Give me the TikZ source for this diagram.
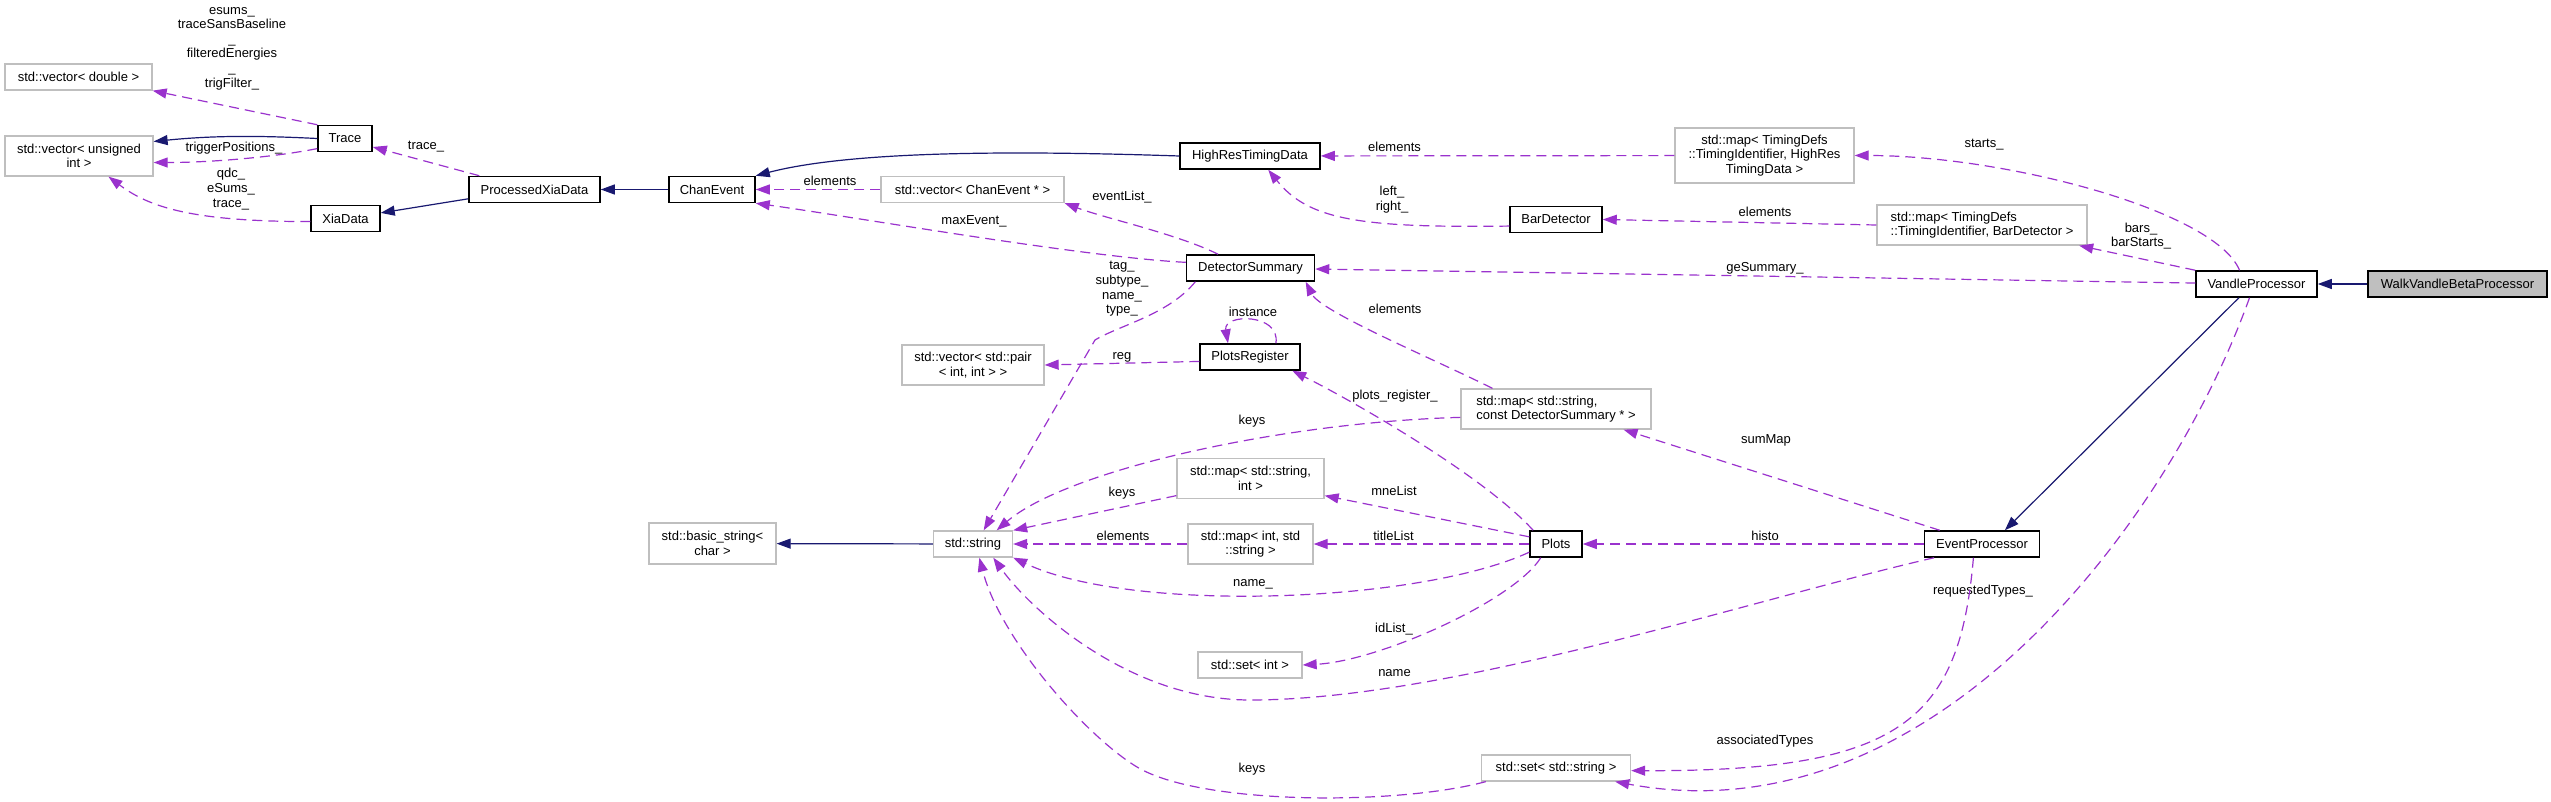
\documentclass[tikz,border=0pt]{standalone}
\usepackage{fontspec}
\usepackage{tikz}
\usetikzlibrary{arrows.meta,positioning}
\newfontfamily\graphfont{Liberation Sans}
\definecolor{usecol}{HTML}{9A32CD}
\definecolor{inhcol}{HTML}{191970}
\definecolor{extcol}{HTML}{BFBFBF}

\begin{document}
\begin{tikzpicture}[
  x=1pt, y=-1pt,
  font=\graphfont\fontsize{13}{14.6}\selectfont,
  cls/.style={draw=black, line width=1.5pt, fill=white, align=center, inner sep=2pt, minimum height=26pt},
  ext/.style={cls, draw=extcol, line width=1.3pt},
  focus/.style={cls, fill=extcol},
  lbl/.style={inner sep=0pt, align=center},
  inherit/.style={-{Triangle[length=14pt,width=10pt]}, color=inhcol, line width=1.2pt},
  usage/.style={-{Triangle[length=14pt,width=10pt]}, color=usecol, line width=1.2pt, dash pattern=on 10pt off 6pt}
]
\useasboundingbox (0,0) rectangle (2551,802);

\node[ext, minimum width=147pt] (vecdbl) at (78.5,77) {std::vector< double >};
\node[ext, minimum width=148pt, minimum height=40pt] (vecuint) at (79,156) {std::vector< unsigned\\int >};
\node[cls, minimum width=54pt] (trace) at (345,138.5) {Trace};
\node[cls, minimum width=69pt] (xiadata) at (345.5,218.5) {XiaData};
\node[cls, minimum width=131pt] (pxd) at (534.5,189.5) {ProcessedXiaData};
\node[cls, minimum width=86pt] (chanev) at (712,189.5) {ChanEvent};
\node[ext, minimum width=183pt] (vecchan) at (972.5,189.5) {std::vector< ChanEvent * >};
\node[cls, minimum width=140pt] (hrtd) at (1250,156) {HighResTimingData};
\node[ext, minimum width=179pt, minimum height=55pt] (maphrtd) at (1764.5,155.5) {std::map< TimingDefs\\::TimingIdentifier, HighRes\\TimingData >};
\node[cls, minimum width=92pt] (bardet) at (1556,219.5) {BarDetector};
\node[ext, minimum width=210pt, minimum height=40pt, align=left] (mapbar) at (1982,225) {std::map< TimingDefs\\::TimingIdentifier, BarDetector >};
\node[cls, minimum width=128pt] (detsum) at (1250.5,268) {DetectorSummary};
\node[cls, minimum width=121pt] (vandle) at (2256.5,284) {VandleProcessor};
\node[focus, minimum width=179pt, right=49.5pt of vandle] (walk) {WalkVandleBetaProcessor};
\node[ext, minimum width=142pt, minimum height=40pt] (vecpair) at (973,365) {std::vector< std::pair\\< int, int > >};
\node[cls, minimum width=100pt] (plotsreg) at (1250,357) {PlotsRegister};
\node[ext, minimum width=190pt, minimum height=40pt, align=left] (mapsumm) at (1556,409) {std::map< std::string,\\ const DetectorSummary * >};
\node[ext, minimum width=147pt, minimum height=40pt] (mapstrint) at (1250.5,478.5) {std::map< std::string,\\int >};
\node[ext, minimum width=127pt, minimum height=41pt] (basicstr) at (712.5,543.5) {std::basic\_string<\\char >};
\node[ext, minimum width=79pt] (stdstr) at (973,544) {std::string};
\node[ext, minimum width=125pt, minimum height=40pt] (mapintstr) at (1250.5,544) {std::map< int, std\\::string >};
\node[cls, minimum width=52pt] (plots) at (1556,544) {Plots};
\node[cls, minimum width=115pt] (evproc) at (1982,544) {EventProcessor};
\node[ext, minimum width=104pt] (setint) at (1250,665) {std::set< int >};
\node[ext, minimum width=149pt] (setstr) at (1556,768) {std::set< std::string >};

\node[lbl] (l-trig) at (232,48.5) {esums\_\\traceSansBaseline\\\_\\filteredEnergies\\\_\\trigFilter\_};
\node[lbl] (l-trigpos) at (234,148) {triggerPositions\_};
\node[lbl] (l-qdc) at (231,189) {qdc\_\\eSums\_\\trace\_};
\node[lbl] (l-trace) at (426,147) {trace\_};
\node[lbl] (l-chanelem) at (830,181) {elements};
\node[lbl] (l-maxev) at (974,221) {maxEvent\_};
\node[lbl] (l-evlist) at (1122,197) {eventList\_};
\node[lbl] (l-hrtdelem) at (1394.5,147) {elements};
\node[lbl] (l-leftright) at (1392,199.5) {left\_\\right\_};
\node[lbl] (l-barelem) at (1765,212) {elements};
\node[lbl] (l-starts) at (1984,145) {starts\_};
\node[lbl] (l-bars) at (2141,236) {bars\_\\barStarts\_};
\node[lbl] (l-gesum) at (1765,268) {geSummary\_};
\node[lbl] (l-tags) at (1122,289) {tag\_\\subtype\_\\name\_\\type\_};
\node[lbl] (l-inst) at (1253,312) {instance};
\node[lbl] (l-reg) at (1122,357) {reg};
\node[lbl] (l-summelem) at (1395,309) {elements};
\node[lbl] (l-plotsreg) at (1395,396) {plots\_register\_};
\node[lbl] (l-summkeys) at (1252,421) {keys};
\node[lbl] (l-summap) at (1766,440) {sumMap};
\node[lbl] (l-sikeys) at (1122,493) {keys};
\node[lbl] (l-mne) at (1394,491) {mneList};
\node[lbl] (l-iselem) at (1123,536) {elements};
\node[lbl] (l-title) at (1393.5,536) {titleList};
\node[lbl] (l-histo) at (1765,536) {histo};
\node[lbl] (l-plname) at (1253,584) {name\_};
\node[lbl] (l-reqtypes) at (1983,591) {requestedTypes\_};
\node[lbl] (l-idlist) at (1394,629) {idList\_};
\node[lbl] (l-epname) at (1394.5,673) {name};
\node[lbl] (l-assoc) at (1765,741) {associatedTypes};
\node[lbl] (l-setkeys) at (1252,769) {keys};

\draw[inherit] (trace.west) .. controls +(-60,-3) and +(60,-6) .. (vecuint.11);
\draw[inherit] (pxd.188) -- (xiadata.9);
\draw[inherit] (chanev) -- (pxd);
\draw[inherit] (hrtd.west) .. controls +(-150,-5) and +(100,-26) .. (chanev.north east);
\draw[inherit] (stdstr) -- (basicstr);
\draw[inherit] (walk) -- (vandle);
\draw[inherit] (vandle.218) -- (evproc.31);

\draw[usage] (trace.north west) -- (vecdbl.south east);
\draw[usage] (trace.200) .. controls +(-40,8) and +(60,0) .. (vecuint.-5);
\draw[usage] (xiadata.185) .. controls +(-120,0) and +(40,30) .. (vecuint.-35);
\draw[usage] (pxd.166) -- (trace.-17);
\draw[usage] (vecchan) -- (chanev);
\draw[usage] (detsum.175) .. controls +(-100,-5) and +(100,14) .. (chanev.south east);
\draw[usage] (detsum.157) .. controls +(-40,-20) and +(40,15) .. (vecchan.south east);
\draw[usage] (maphrtd) -- (hrtd);
\draw[usage] (bardet.188) .. controls +(-150,2) and +(40,50) .. (hrtd.-37);
\draw[usage] (mapbar.west) -- (bardet.east);
\draw[usage] (vandle.141) .. controls +(-25,-60) and +(150,0) .. (maphrtd.east);
\draw[usage] (vandle.north west) -- (mapbar.-12);
\draw[usage] (vandle) -- (detsum);
\draw[usage] (mapsumm.162) .. controls +(-60,-30) and +(15,30) .. (detsum.-14);
\draw[usage] (plots.149) .. controls +(-50,-55) and +(60,30) .. (plotsreg.-18);
\draw[usage] (plotsreg.28) .. controls +(5,-30) and +(-5,-30) .. (plotsreg.148);
\draw[usage] (plotsreg.185) -- (vecpair.east);
\draw[usage] (detsum.194) .. controls +(-27,33) and +(25,-15) .. (1095,340) -- (stdstr.52);
\draw[usage] (mapsumm.185) .. controls +(-180,5) and +(70,-60) .. (stdstr.30);
\draw[usage] (mapstrint.193) -- (stdstr.north east);
\draw[usage] (mapintstr) -- (stdstr);
\draw[usage] (plots.197) .. controls +(-110,51) and +(118,56) .. (stdstr.south east);
\draw[usage] (plots.165) -- (mapstrint.-13);
\draw[usage] (plots) -- (mapintstr);
\draw[usage] (plots.222) .. controls +(-27,43) and +(77,-4) .. (setint.east);
\draw[usage] (evproc) -- (plots);
\draw[usage] (evproc.162) -- (mapsumm.-17);
\draw[usage] (evproc.196) .. controls +(-187,43) and +(200,0) .. (1250,700) .. controls +(-120,0) and +(38,53) .. (stdstr.-34);
\draw[usage] (setstr.191) .. controls +(-90,24) and +(63,38) .. (1137,767) .. controls +(-50,-30) and +(21,82) .. (stdstr.-65);
\draw[usage] (evproc.238) .. controls +(-14,163) and +(270,1) .. (setstr.-2);
\draw[usage] (vandle.243) .. controls +(-80,223) and +(317,59) .. (setstr.-13);
\end{tikzpicture}
\end{document}
